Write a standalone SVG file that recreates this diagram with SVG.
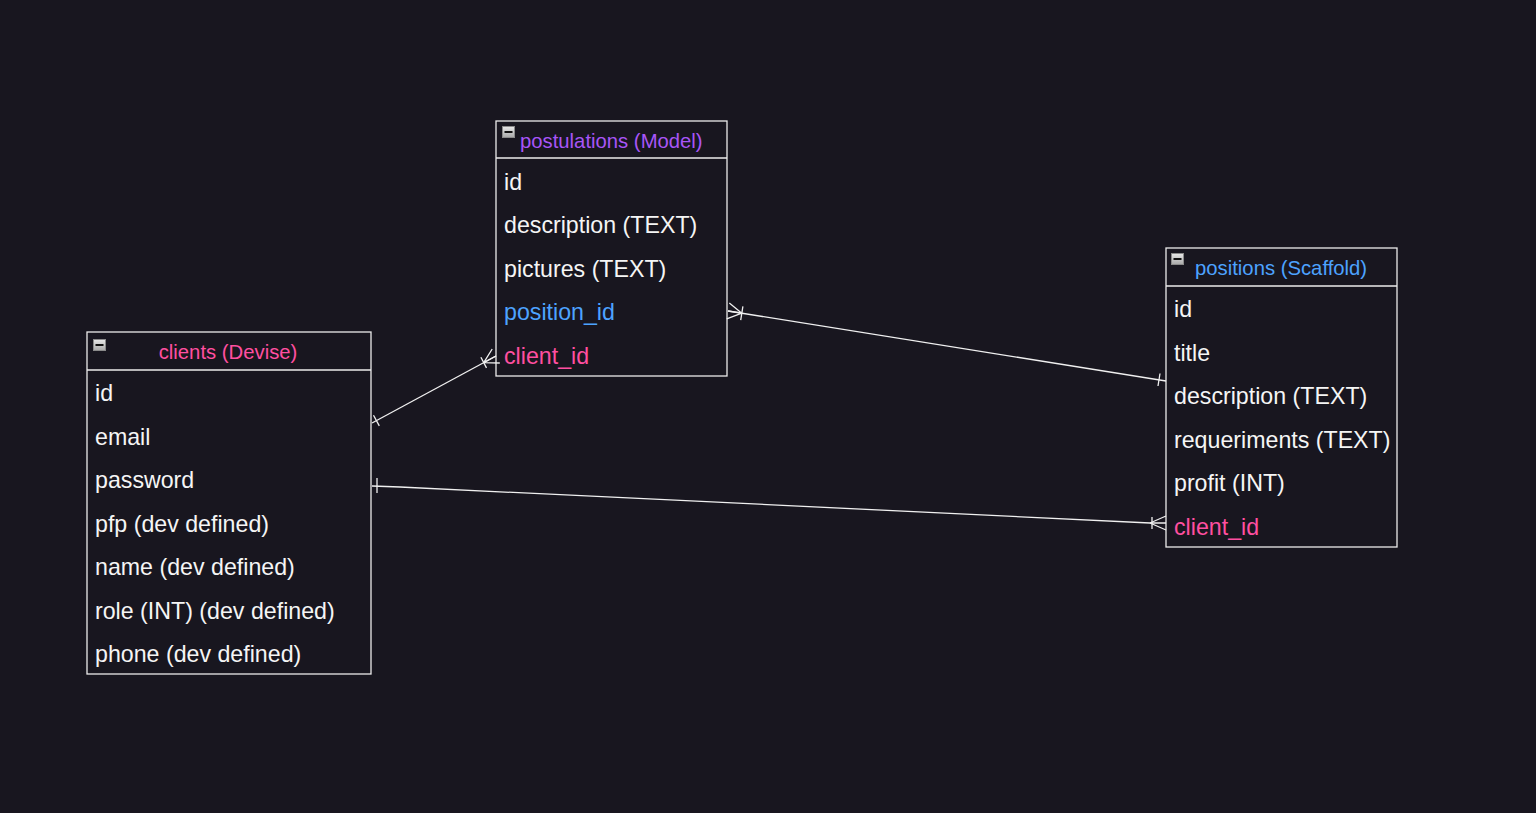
<svg xmlns="http://www.w3.org/2000/svg" width="1536" height="813" viewBox="0 0 1536 813">
<defs>
<linearGradient id="ig" x1="0" y1="0" x2="0" y2="1"><stop offset="0" stop-color="#e8e8e8"/><stop offset="1" stop-color="#a8a8a8"/></linearGradient>
<g id="minus"><rect x="0.5" y="0.5" width="12" height="11" fill="url(#ig)" stroke="#8a8a8a"/><rect x="2.5" y="5" width="8" height="2" fill="#111"/></g>
</defs>
<style>
.box{fill:#18161f;stroke:#ececec;stroke-width:1.3}
.sep{stroke:#ececec;stroke-width:1.3}
.t{font-family:"Liberation Sans",Arial,sans-serif;font-size:23.2px;fill:#f5f5f5}
.h{font-family:"Liberation Sans",Arial,sans-serif;font-size:20.3px}
.pink{fill:#ff4fa0}
.purple{fill:#a855f7}
.blue{fill:#4da3ff}
.c{fill:none;stroke:#f0f0f0;stroke-width:1.3}
</style>
<rect width="1536" height="813" fill="#18161f"/>
<g id="clients">
<rect class="box" x="87" y="332" width="284" height="342"/>
<line class="sep" x1="87" y1="370" x2="371" y2="370"/>
<use href="#minus" x="93" y="339"/>
<text class="h pink" x="228" y="359" text-anchor="middle">clients (Devise)</text>
<text class="t" x="95" y="401">id</text>
<text class="t" x="95" y="445">email</text>
<text class="t" x="95" y="488">password</text>
<text class="t" x="95" y="532">pfp (dev defined)</text>
<text class="t" x="95" y="575">name (dev defined)</text>
<text class="t" x="95" y="619">role (INT) (dev defined)</text>
<text class="t" x="95" y="662">phone (dev defined)</text>
</g>
<g id="postulations">
<rect class="box" x="496" y="121" width="231" height="255"/>
<line class="sep" x1="496" y1="158" x2="727" y2="158"/>
<use href="#minus" x="502" y="126"/>
<text class="h purple" x="520" y="148">postulations (Model)</text>
<text class="t" x="504" y="190">id</text>
<text class="t" x="504" y="233">description (TEXT)</text>
<text class="t" x="504" y="277">pictures (TEXT)</text>
<text class="t blue" x="504" y="320">position_id</text>
<text class="t pink" x="504" y="364">client_id</text>
</g>
<g id="positions">
<rect class="box" x="1166" y="248" width="231" height="299"/>
<line class="sep" x1="1166" y1="286" x2="1397" y2="286"/>
<use href="#minus" x="1171" y="253"/>
<text class="h blue" x="1195" y="275">positions (Scaffold)</text>
<text class="t" x="1174" y="317">id</text>
<text class="t" x="1174" y="361">title</text>
<text class="t" x="1174" y="404">description (TEXT)</text>
<text class="t" x="1174" y="448">requeriments (TEXT)</text>
<text class="t" x="1174" y="491">profit (INT)</text>
<text class="t pink" x="1174" y="535">client_id</text>
</g>
<g id="connectors">
<path class="c" d="M372,423 L496,356"/>
<path class="c" d="M373.5,415.3 L379.3,425.9"/>
<path class="c" d="M483.7,362.6 L499.8,363 M483.7,362.6 L496,356 M483.7,362.6 L492.2,349"/>
<path class="c" d="M480.9,357.3 L486.5,367.9"/>
<path class="c" d="M728,311 L1166,381"/>
<path class="c" d="M741.8,313.2 L726.7,318.9 M741.8,313.2 L728,311 M741.8,313.2 L729.3,303.1"/>
<path class="c" d="M742.9,306.3 L740.7,320.1"/>
<path class="c" d="M1160,373.5 L1158,386"/>
<path class="c" d="M372,486 L400,487 L1150,523 L1166,523"/>
<path class="c" d="M377,478 L377,493"/>
<path class="c" d="M1150,523 L1166,516 M1150,523 L1166,530"/>
<path class="c" d="M1152,517 L1152,529"/>
</g>
</svg>
